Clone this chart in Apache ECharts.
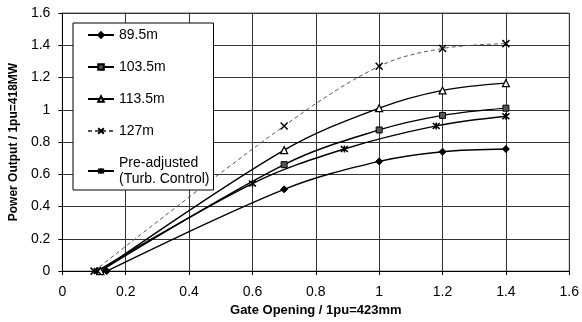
<!DOCTYPE html>
<html>
<head>
<meta charset="utf-8">
<script src="https://cdn.jsdelivr.net/npm/echarts@6/dist/echarts.min.js"></script>
<style>html,body{margin:0;padding:0;background:#fff;}#c{width:582px;height:322px;}</style>
</head>
<body>
<div id="c"></div>
<script>
// Data
const seriesNames = ['89.5m', '103.5m', '113.5m', '127m', 'Pre-adjusted\n(Turb. Control)'];
const gate895 = [0.14, 0.7, 1.0, 1.2, 1.4];
const power895 = [0, 0.507, 0.68, 0.74, 0.757];
const gate1035 = [0.12, 0.7, 1.0, 1.2, 1.4];
const power1035 = [0, 0.66, 0.875, 0.965, 1.01];
const gate1135 = [0.12, 0.7, 1.0, 1.2, 1.4];
const power1135 = [0, 0.75, 1.01, 1.12, 1.165];
const gate127 = [0.10, 0.7, 1.0, 1.2, 1.4];
const power127 = [0, 0.90, 1.27, 1.38, 1.41];
const gatePre = [0.11, 0.6, 0.89, 1.18, 1.4];
const powerPre = [0, 0.543, 0.757, 0.90, 0.96];
const xTicks = [0, 0.2, 0.4, 0.6, 0.8, 1, 1.2, 1.4, 1.6];
const yTicks = [0, 0.2, 0.4, 0.6, 0.8, 1, 1.2, 1.4, 1.6];

const pairs = (xs, ys) => xs.map((x, i) => [x, ys[i]]);
const FONT = '"Liberation Sans", Arial, sans-serif';
const xPath = 'path://M0,0L10,10M10,0L0,10';
const starPath = 'path://M0,0L10,10M10,0L0,10M5,-1L5,11';

function mk(name, data, symbol, opts) {
  return Object.assign({
    name: name,
    type: 'line',
    data: data,
    smooth: 0.35,
    symbol: symbol,
    symbolSize: 6,
    showAllSymbol: true,
    lineStyle: { color: '#000', width: 1.4 },
    itemStyle: { color: '#000', borderColor: '#000', borderWidth: 1 },
    emphasis: { disabled: true },
    z: 3
  }, opts || {});
}

const chart = echarts.init(document.getElementById('c'), null, { renderer: 'canvas' });
chart.setOption({
  animation: false,
  backgroundColor: '#fff',
  textStyle: { fontFamily: FONT },
  grid: { left: 62, right: 12, top: 13, bottom: 47, show: true, borderColor: '#666', borderWidth: 1, backgroundColor: 'transparent' },
  legend: {
    orient: 'vertical',
    left: 73, top: 23,
    padding: [4, 4, 3, 14],
    itemGap: 16,
    itemWidth: 26,
    itemHeight: 7,
    backgroundColor: '#fff',
    borderColor: '#000',
    borderWidth: 1,
    textStyle: { fontFamily: FONT, fontSize: 14, color: '#000', lineHeight: 16 },
    data: seriesNames
  },
  xAxis: {
    type: 'value', min: 0, max: 1.6, interval: 0.2,
    name: 'Gate Opening / 1pu=423mm', nameLocation: 'middle', nameGap: 32,
    nameTextStyle: { fontFamily: FONT, fontSize: 13, fontWeight: 'bold', color: '#000' },
    axisLine: { show: true, onZero: false, lineStyle: { color: '#000', width: 1 } },
    axisTick: { show: true, length: 4, lineStyle: { color: '#000' } },
    axisLabel: { fontFamily: FONT, fontSize: 14, color: '#000', margin: 14,
      formatter: v => { const t = xTicks.find(k => Math.abs(k - v) < 1e-9); return t === undefined ? '' : String(t); } },
    splitLine: { show: true, lineStyle: { color: '#333', width: 1 } }
  },
  yAxis: {
    type: 'value', min: 0, max: 1.6, interval: 0.2,
    name: 'Power Output / 1pu=418MW', nameLocation: 'middle', nameGap: 33,
    nameTextStyle: { fontFamily: FONT, fontSize: 12, fontWeight: 'bold', color: '#000' },
    axisLine: { show: true, lineStyle: { color: '#000', width: 1 } },
    axisTick: { show: true, length: 4, lineStyle: { color: '#000' } },
    axisLabel: { fontFamily: FONT, fontSize: 14, color: '#000', margin: 12,
      formatter: v => { const t = yTicks.find(k => Math.abs(k - v) < 1e-9); return t === undefined ? '' : String(t); } },
    splitLine: { show: true, lineStyle: { color: '#333', width: 1 } }
  },
  series: [
    mk(seriesNames[0], pairs(gate895, power895), 'diamond', { symbolSize: 7 }),
    mk(seriesNames[1], pairs(gate1035, power1035), 'rect', { symbolSize: 6, itemStyle: { color: '#555', borderColor: '#000', borderWidth: 1 } }),
    mk(seriesNames[2], pairs(gate1135, power1135), 'triangle', { symbolSize: 7, itemStyle: { color: '#fff', borderColor: '#000', borderWidth: 1.2 } }),
    mk(seriesNames[3], pairs(gate127, power127), xPath, { symbolSize: 7,
      lineStyle: { color: '#555', width: 1, type: [4, 3] },
      itemStyle: { color: 'none', borderColor: '#000', borderWidth: 1.5 } }),
    mk(seriesNames[4], pairs(gatePre, powerPre), starPath, { symbolSize: 7,
      itemStyle: { color: 'none', borderColor: '#000', borderWidth: 1.5 } })
  ]
});
</script>
</body>
</html>
